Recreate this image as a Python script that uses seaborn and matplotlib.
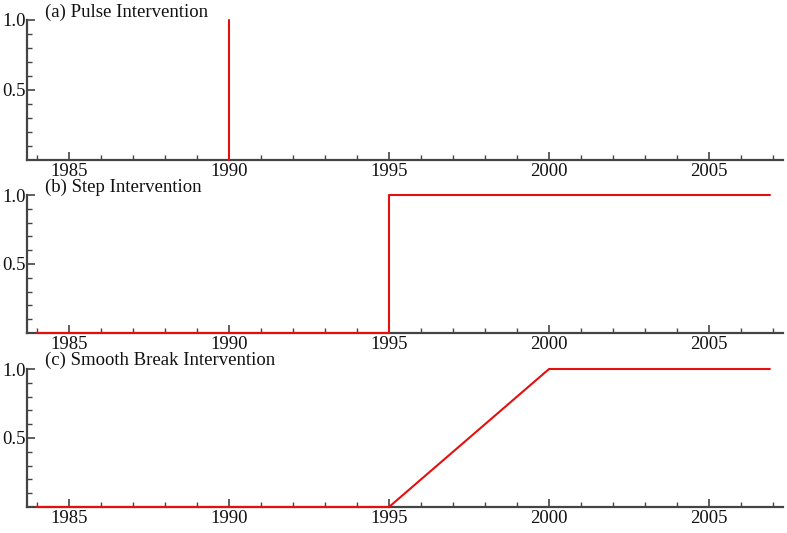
import numpy as np
import pandas as pd
import matplotlib
matplotlib.use("Agg")
import matplotlib.pyplot as plt
import seaborn as sns
from matplotlib.ticker import MultipleLocator, FixedLocator

sns.set_theme(style="white")
plt.rcParams['font.family'] = ['Liberation Serif', 'DejaVu Serif']

# Data
pulse_x = [1990.0, 1990.0]
pulse_y = [0.0, 1.0]
step_x = [1984.0, 1995.0, 1995.0, 2006.9]
step_y = [0.0, 0.0, 1.0, 1.0]
smooth_x = [1984.0, 1995.0, 2000.0, 2006.9]
smooth_y = [0.0, 0.0, 1.0, 1.0]
titles = ["(a) Pulse Intervention", "(b) Step Intervention", "(c) Smooth Break Intervention"]
xticks = [1985, 1990, 1995, 2000, 2005]
yticks = [0.5, 1.0]
ytick_labels = ["0.5", "1.0"]

W, H = 787, 533
fig = plt.figure(figsize=(W/100, H/100), dpi=100)

panels = [(pulse_x, pulse_y, 20, 160, 12),
          (step_x, step_y, 195, 333, 187),
          (smooth_x, smooth_y, 369, 507, 360)]

spine_col = "#444444"
for (xs, ys, top, bot, ty), title in zip(panels, titles):
    ax = fig.add_axes([27/W, 1-bot/H, (783-27)/W, (bot-top)/H])
    df = pd.DataFrame({"x": xs, "y": ys})
    sns.lineplot(data=df, x="x", y="y", ax=ax, color="#e41010", lw=1.5,
                 sort=False, estimator=None, clip_on=False, zorder=5)
    ax.set_xlim(1983.69, 2007.31)
    ax.set_ylim(0, 1.0)
    ax.set_xlabel("")
    ax.set_ylabel("")
    for s in ["top", "right"]:
        ax.spines[s].set_visible(False)
    for s in ["left", "bottom"]:
        ax.spines[s].set_color(spine_col)
        ax.spines[s].set_linewidth(1.6)
    ax.xaxis.set_major_locator(FixedLocator(xticks))
    ax.set_xticklabels([str(t) for t in xticks])
    ax.xaxis.set_minor_locator(MultipleLocator(1))
    ax.yaxis.set_major_locator(FixedLocator(yticks))
    ax.set_yticklabels(ytick_labels)
    ax.yaxis.set_minor_locator(FixedLocator([0.1, 0.2, 0.3, 0.4, 0.6, 0.7, 0.8, 0.9]))
    ax.tick_params(axis="both", which="major", direction="in", length=6, width=1.2,
                   color=spine_col, labelsize=13.5, labelcolor="#111111", pad=2)
    ax.tick_params(axis="both", which="minor", direction="in", length=3.5, width=1.0,
                   color=spine_col)
    ax.tick_params(axis="x", which="both", bottom=True)
    ax.tick_params(axis="y", which="both", left=True, pad=1)
    fig.text(45/W, 1-ty/H, title, fontsize=13.5, va="center", ha="left", color="#111111")

fig.savefig("out.png", dpi=100)
